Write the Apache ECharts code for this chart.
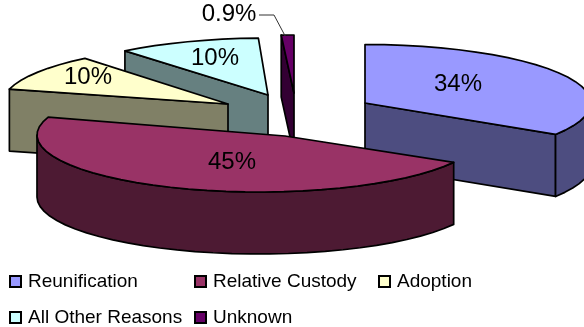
<!DOCTYPE html>
<html>
<head>
<meta charset="utf-8">
<style>html,body{margin:0;padding:0;background:#fff}#c{width:584px;height:327px}</style>
<script src="https://cdn.jsdelivr.net/npm/echarts@6/dist/echarts.min.js"></script>
</head>
<body>
<div id="c"></div>
<script>
// ---- chart values ----
const categories = ['Reunification', 'Relative Custody', 'Adoption', 'All Other Reasons', 'Unknown'];
const values = [34, 45, 10, 10, 0.9];
const valueLabels = ['34%', '45%', '10%', '10%', '0.9%'];

// ---- styling and layout ----
const FONT = '"Liberation Sans", Arial, sans-serif';
const topColors = ['#9999FF', '#993366', '#FFFFCC', '#CCFFFF', '#660066'];
const wallColors = ['#4D4D80', '#4D1A33', '#808066', '#668080', '#330033'];
const DEPTH = 62;
const RX = 226, RY = 59;
const apexes = [[365, 103], [285, 136], [228, 104], [268, 95], [294, 93]];
// centre of the rim ellipse; differs from the apex only on the big slice (perspective)
const rimCentres = [[365, 103], [259, 135], [228, 104], [268, 95], [294, 93]];
const rimSizes = [[RX, 58.5], [222, 57], [RX, RY], [RX, 57], [RX, 58]];
const angleTweak = [[0, 0], [-3.8, 3.6], [0, 0], [0, 0.8], [0, 0]];
const labelPos = [[458, 84], [232, 162], [88, 77], [215, 58], [229, 14]];
const drawOrder = [0, 4, 3, 2, 1];
const legendPos = [[9, 272], [194, 272], [378, 272], [9, 308], [194, 308]];

const total = values.reduce((a, b) => a + b, 0);
const starts = [];
values.reduce((acc, v, i) => { starts[i] = acc; return acc + v; }, 0);

function rimPoint(i, deg) {
  const t = deg * Math.PI / 180;
  return [rimCentres[i][0] + rimSizes[i][0] * Math.sin(t),
          rimCentres[i][1] - rimSizes[i][1] * Math.cos(t)];
}
function arcPoints(i, a0, a1) {
  const n = Math.max(2, Math.ceil((a1 - a0) / 5));
  const out = [];
  for (let k = 0; k <= n; k++) out.push(rimPoint(i, a0 + (a1 - a0) * k / n));
  return out;
}
const down = p => [p[0], p[1] + DEPTH];

function poly(points, fill) {
  return { type: 'polygon', shape: { points }, style: { fill, stroke: '#000', lineWidth: 1.7, lineJoin: 'round' } };
}
function curvedWall(i, a0, a1) {
  const vis = arcPoints(i, a0, a1);
  return poly(vis.concat(vis.slice().reverse().map(down)), wallColors[i]);
}
function radialWall(i, rimEnd) {
  return poly([apexes[i], rimEnd, down(rimEnd), down(apexes[i])], wallColors[i]);
}

function renderSlice(i) {
  const a0 = starts[i] / total * 360 + angleTweak[i][0];
  const a1 = (starts[i] + values[i]) / total * 360 + angleTweak[i][1];
  const rim = arcPoints(i, a0, a1);
  const children = [];

  if (i === 0) {
    children.push(radialWall(i, rim[rim.length - 1]), curvedWall(i, 90, a1));
  } else if (i === 1) {
    children.push(curvedWall(i, a0, 270));
  } else {
    children.push(radialWall(i, rim[0]));
  }
  children.push(poly([apexes[i]].concat(rim), topColors[i]));

  if (i === 4) {
    // leader line of the smallest slice
    const tip = rim[0];
    children.push({ type: 'polyline', shape: { points: [[labelPos[i][0] + 30, labelPos[i][1] + 1], [labelPos[i][0] + 45, labelPos[i][1] + 1], [tip[0] + 4, tip[1] + 1]] },
      style: { fill: 'none', stroke: '#333', lineWidth: 1 } });
  }
  children.push({ type: 'text', z2: 100, style: { text: valueLabels[i], x: labelPos[i][0], y: labelPos[i][1],
    fill: '#000', font: '24px ' + FONT, align: 'center', verticalAlign: 'middle' } });
  return { type: 'group', children };
}

const series = drawOrder.map((i, k) => ({
  type: 'custom',
  name: categories[i],
  coordinateSystem: 'none',
  silent: true,
  clip: false,
  z: 2 + k,
  animation: false,
  data: [[values[i]]],
  renderItem: () => renderSlice(i)
}));

const legend = categories.map((name, i) => ({
  left: legendPos[i][0], top: legendPos[i][1], padding: 0, itemWidth: 11, itemHeight: 11, itemGap: 0,
  selectedMode: false, orient: 'horizontal',
  textStyle: { fontFamily: FONT, fontSize: 19, color: '#000', padding: [0, 0, 0, 2] },
  data: [{ name, icon: 'rect', itemStyle: { color: topColors[i], borderColor: '#000', borderWidth: 2 } }]
}));

const chart = echarts.init(document.getElementById('c'), null, { renderer: 'canvas' });
chart.setOption({ animation: false, backgroundColor: '#fff', legend, series });
</script>
</body>
</html>
